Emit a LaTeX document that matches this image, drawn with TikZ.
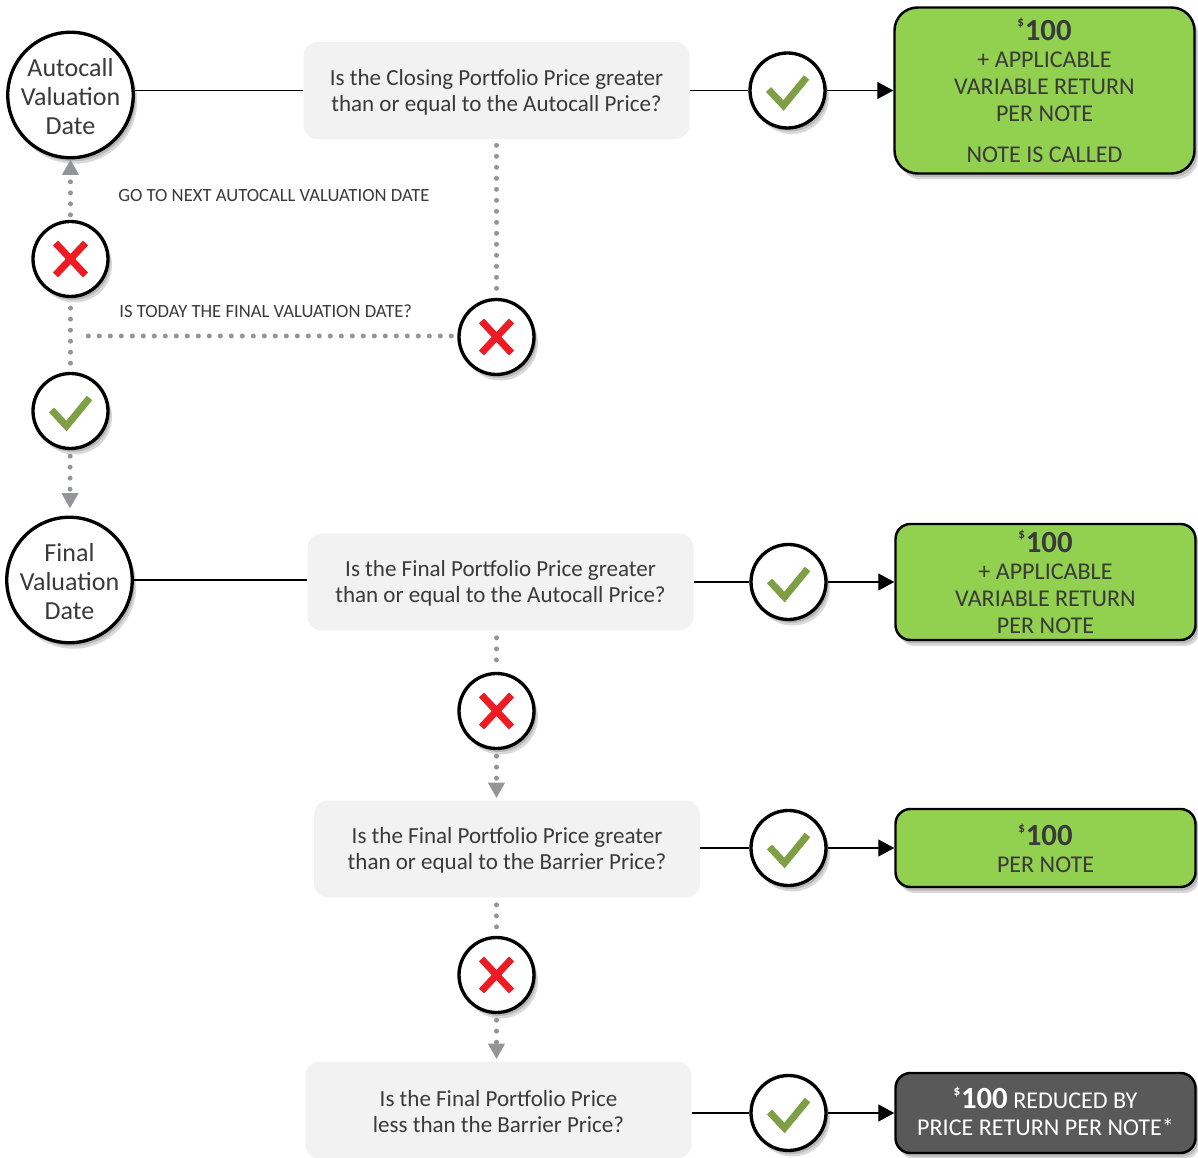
\documentclass[tikz,border=0pt]{standalone}
\usepackage{fontspec}
\setmainfont{Carlito}
\usepackage{tikz}
\usetikzlibrary{shapes, arrows.meta, positioning, shadows}
\definecolor{qgrey}{HTML}{F2F2F2}
\definecolor{dotgrey}{HTML}{939598}
\definecolor{textgrey}{HTML}{3A3A3A}
\definecolor{payoff}{HTML}{92D050}
\definecolor{payloss}{HTML}{595959}
\definecolor{tickgreen}{HTML}{7F9F45}
\definecolor{crossred}{HTML}{ED1C24}
\tikzstyle{softshadow} = [drop shadow={shadow xshift=.05cm, shadow yshift=-.07cm, opacity=.15, fill=black},
  drop shadow={shadow xshift=.08cm, shadow yshift=-.12cm, opacity=.15, fill=black}]
\tikzstyle{datecircle} = [draw, fill=white, circle, line width=1.9pt, minimum size=2.51cm, inner sep=-4pt, align=center, softshadow,
  text=textgrey, font=\fontsize{14.8}{16.6}\selectfont, text height=45pt]
\tikzstyle{badge} = [draw, fill=white, circle, line width=1.9pt, minimum size=1.5cm, inner sep=0pt, softshadow]
\tikzstyle{qbox} = [fill=qgrey, rectangle, rounded corners=.28cm, minimum width=7.72cm, minimum height=1.94cm, align=center,
  text=textgrey, font=\fontsize{13.1}{14.8}\selectfont, text height=26pt]
\tikzstyle{payout} = [draw, fill=payoff, rectangle, line width=1.4pt, rounded corners=.3cm, minimum width=6cm, align=center, softshadow,
  text=textgrey, font=\fontsize{13.7}{15.4}\selectfont]
\tikzstyle{note} = [anchor=west, inner sep=0pt, text=textgrey, font=\fontsize{10.6}{12}\selectfont]
\tikzstyle{link} = [line width=.8pt]
\tikzstyle{dots} = [dotgrey, line width=.1cm, line cap=round, dash pattern=on 0pt off .22cm, >={Triangle[length=.31cm,width=.32cm]}]
\newcommand{\hundred}{\raisebox{.55em}{\fontsize{7.5}{7}\selectfont\textbf{\$}}\kern.4pt{\fontsize{17.5}{15}\selectfont\textbf{100}}}
\newcommand{\tickmark}[1]{\draw[tickgreen, line width=.14cm] ([shift={(-.38,.02)}]#1.center) -- ([shift={(-.08,-.3)}]#1.center) -- ([shift={(.38,.26)}]#1.center);}
\newcommand{\crossmark}[1]{\draw[crossred, line width=.14cm] ([shift={(-.3,.32)}]#1.center) -- ([shift={(.3,-.32)}]#1.center) ([shift={(-.3,-.32)}]#1.center) -- ([shift={(.3,.32)}]#1.center);}

\begin{document}
\begin{tikzpicture}[auto,>={Triangle[length=.32cm,width=.34cm]}]
  \useasboundingbox (0,0) rectangle (23.96,23.14);
  \clip (0,0) rectangle (23.96,23.14);

  % first row and the loop back
  \node[datecircle] (Adate) at (1.41,21.24) {Autocall\\Valuation\\Date};
  \node[qbox, right of=Adate, node distance=8.52cm, yshift=.09cm] (Q1) {Is the Closing Portfolio Price greater\\than or equal to the Autocall Price?};
  \node[badge, right of=Q1, node distance=5.82cm] (Tq1) {};
  \node[payout, right of=Tq1, node distance=5.14cm, minimum height=3.32cm, rounded corners=.46cm] (R1) {\hundred\\+ APPLICABLE\\VARIABLE RETURN\\PER NOTE\\[.28cm]NOTE IS CALLED};
  \node[badge, below of=Adate, node distance=3.28cm] (Xnext) {};
  \node[badge, below of=Q1, node distance=4.93cm] (Xq1) {};
  \node[badge, below of=Xnext, node distance=3.04cm] (Tfinal) {};
  \coordinate[left of=Xq1, node distance=8.2cm, yshift=.02cm] (Jfinal);
  \node[note] (Lnext) at (2.36,19.22) {GO TO NEXT AUTOCALL VALUATION DATE};
  \node[note] (Lfinal) at (2.38,16.92) {IS TODAY THE FINAL VALUATION DATE?};

  % final date rows
  \node[datecircle, below of=Tfinal, node distance=3.38cm, xshift=-.02cm] (Fdate) {Final\\Valuation\\Date};
  \node[qbox, right of=Fdate, node distance=8.62cm, yshift=-.04cm] (Q2) {Is the Final Portfolio Price greater\\than or equal to the Autocall Price?};
  \node[badge, right of=Q2, node distance=5.76cm] (Tq2) {};
  \node[payout, right of=Tq2, node distance=5.14cm, minimum height=2.32cm] (R2) {\hundred\\+ APPLICABLE\\VARIABLE RETURN\\PER NOTE};
  \node[badge, below of=Q2, node distance=2.58cm, xshift=-.08cm] (Xq2) {};
  \node[qbox, below of=Xq2, node distance=2.76cm, xshift=.21cm] (Q3) {Is the Final Portfolio Price greater\\than or equal to the Barrier Price?};
  \node[badge, right of=Q3, node distance=5.63cm, yshift=.02cm] (Tq3) {};
  \node[payout, right of=Tq3, node distance=5.14cm, minimum height=1.56cm] (R3) {\hundred\\PER NOTE};
  \node[badge, below of=Q3, node distance=2.52cm, xshift=-.21cm] (Xq3) {};
  \node[qbox, below of=Xq3, node distance=2.7cm, xshift=.04cm] (Q4) {Is the Final Portfolio Price\\less than the Barrier Price?};
  \node[badge, right of=Q4, node distance=5.8cm, yshift=-.06cm] (Tq4) {};
  \node[payout, right of=Tq4, node distance=5.14cm, minimum height=1.6cm, fill=payloss, text=white] (R4) {\hundred{} REDUCED BY\\PRICE RETURN PER NOTE*\rule[-2pt]{0pt}{6pt}};

  \tickmark{Tq1}
  \tickmark{Tfinal}
  \tickmark{Tq2}
  \tickmark{Tq3}
  \tickmark{Tq4}
  \crossmark{Xnext}
  \crossmark{Xq1}
  \crossmark{Xq2}
  \crossmark{Xq3}

  \draw[link] (Adate.east |- Q1) -- (Q1);
  \draw[link] (Q1) -- (Tq1);
  \draw[link,->] (Tq1) -- (R1);
  \draw[link] (Fdate) -- (Fdate -| Q2.west);
  \draw[link] (Q2.east |- Tq2) -- (Tq2);
  \draw[link,->] (Tq2) -- (R2);
  \draw[link] (Q3.east |- Tq3) -- (Tq3);
  \draw[link,->] (Tq3) -- (R3);
  \draw[link] (Q4.east |- Tq4) -- (Tq4);
  \draw[link,->] (Tq4) -- (R4);

  \draw[dots,->,shorten <=.1cm] (Xnext) -- (Adate);
  \draw[dots,shorten <=.12cm,shorten >=.12cm] (Q1.south -| Xq1) -- (Xq1);
  \draw[dots,shorten <=.12cm] (Xq1.west |- Jfinal) -- (Jfinal);
  \draw[dots,shorten <=.2cm,shorten >=.12cm] (Xnext) -- (Tfinal);
  \draw[dots,->,shorten <=.12cm,shorten >=.14cm] (Tfinal) -- (Fdate);
  \draw[dots,shorten <=.14cm,shorten >=.1cm] (Q2.south -| Xq2) -- (Xq2);
  \draw[dots,->,shorten <=.12cm,shorten >=.04cm] (Xq2) -- (Q3.north -| Xq2);
  \draw[dots,shorten <=.14cm,shorten >=.1cm] (Q3.south -| Xq3) -- (Xq3);
  \draw[dots,->,shorten <=.12cm,shorten >=.04cm] (Xq3) -- (Q4.north -| Xq3);
\end{tikzpicture}
\end{document}
